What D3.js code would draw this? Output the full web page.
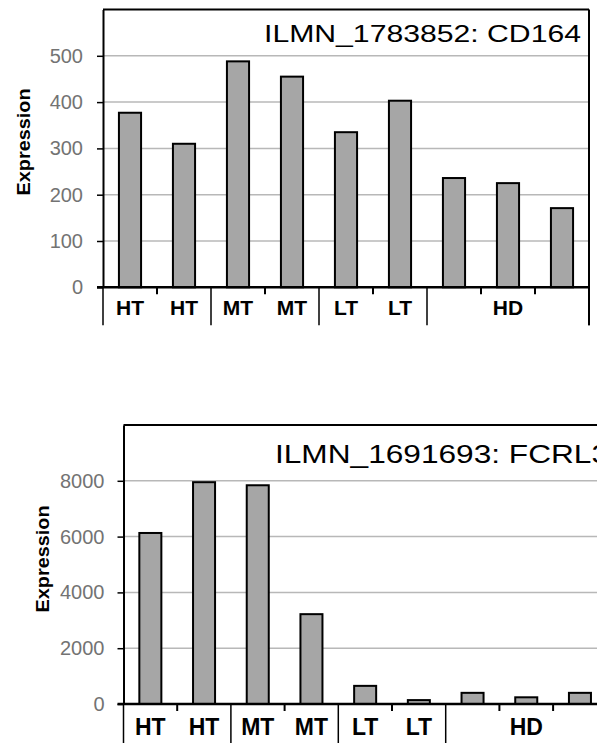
<!DOCTYPE html>
<html lang="en">
	<head>
		<meta charset="utf-8">
		<title>Expression: CD164 and FCRL3</title>
		<script src="https://d3js.org/d3.v7.min.js" charset="utf-8"></script>
		<style type="text/css">
			body {
				margin: 0;
				background-color: white;
			}
			svg text {
				font-family: "Liberation Sans", Arial, sans-serif;
			}
		</style>
	</head>
	<body>

		<script>

			//Width and height
			var w = 597;
			var h = 743;

			//Sample labels along the x axis (empty ones sit under a group label)
			var sampleLabels = ["HT", "HT", "MT", "MT", "LT", "LT", "", "", ""];
			var groupLabels = ["HT", "MT", "LT", "HD"];
			var groupSizes = [2, 2, 2, 3];

			//Values
			var cd164Values = [377, 310, 488, 455, 335, 403, 236, 225, 171];
			var fcrl3Values = [6130, 7950, 7840, 3220, 650, 140, 400, 240, 400];

			//Y axis ticks
			var cd164Ticks = [0, 100, 200, 300, 400, 500];
			var fcrl3Ticks = [0, 2000, 4000, 6000, 8000];

			var svg = d3.select("body")
				.append("svg")
				.attr("width", w)
				.attr("height", h);

			function drawPanel(p) {

				var g = svg.append("g")
					.attr("transform", "translate(" + p.left + "," + p.top + ")");

				var x = d3.scaleBand()
					.domain(d3.range(p.values.length))
					.range([0, p.width])
					.padding(0);

				var y = d3.scaleLinear()
					.domain([0, p.yMax])
					.range([p.height, 0]);

				var barW = x.bandwidth() * 0.41;

				//Gridlines
				g.selectAll("line.grid")
					.data(p.ticks.filter(function(d) { return d > 0; }))
					.enter()
					.append("line")
					.attr("class", "grid")
					.attr("x1", 0)
					.attr("x2", p.width)
					.attr("y1", function(d) { return y(d); })
					.attr("y2", function(d) { return y(d); })
					.attr("stroke", "#b8b8b8")
					.attr("stroke-width", 1.5);

				//Bars
				g.selectAll("rect")
					.data(p.values)
					.enter()
					.append("rect")
					.attr("x", function(d, i) { return x(i) + (x.bandwidth() - barW) / 2; })
					.attr("y", function(d) { return y(d); })
					.attr("width", barW)
					.attr("height", function(d) { return y(0) - y(d); })
					.attr("fill", "#a6a6a6")
					.attr("stroke", "black")
					.attr("stroke-width", 2);

				//Y axis
				var yAxis = g.append("g")
					.call(d3.axisLeft(y)
						.tickValues(p.ticks)
						.tickFormat(d3.format("d"))
						.tickSizeInner(6)
						.tickSizeOuter(0)
						.tickPadding(p.tickPad));
				yAxis.select(".domain")
					.attr("stroke", "black")
					.attr("stroke-width", 2);
				yAxis.selectAll(".tick line")
					.attr("stroke", "black")
					.attr("stroke-width", 1.5);
				yAxis.selectAll(".tick text")
					.attr("fill", "#737373")
					.style("font-size", p.tickFont + "px");

				//Frame: top and right
				g.append("line")
					.attr("x1", 0)
					.attr("x2", p.width)
					.attr("y1", y(p.yMax))
					.attr("y2", y(p.yMax))
					.attr("stroke", "black")
					.attr("stroke-width", 2);
				g.append("line")
					.attr("x1", p.width)
					.attr("x2", p.width)
					.attr("y1", y(p.yMax))
					.attr("y2", y(0) + p.sepLen)
					.attr("stroke", "black")
					.attr("stroke-width", 2);

				//Base line
				g.append("line")
					.attr("x1", -6)
					.attr("x2", p.width)
					.attr("y1", y(0))
					.attr("y2", y(0))
					.attr("stroke", "black")
					.attr("stroke-width", 2.5);

				//Group separators and small ticks between samples
				var bounds = [0];
				groupSizes.forEach(function(n) { bounds.push(bounds[bounds.length - 1] + n); });

				g.selectAll("line.sep")
					.data(d3.range(p.values.length + 1))
					.enter()
					.append("line")
					.attr("class", "sep")
					.attr("x1", function(i) { return i * x.step(); })
					.attr("x2", function(i) { return i * x.step(); })
					.attr("y1", y(0))
					.attr("y2", function(i) { return y(0) + (bounds.indexOf(i) >= 0 ? p.sepLen : 7); })
					.attr("stroke", "black")
					.attr("stroke-width", function(i) { return bounds.indexOf(i) >= 0 ? 1.5 : 2; });

				//Sample labels
				g.selectAll("text.sample")
					.data(sampleLabels)
					.enter()
					.append("text")
					.attr("class", "sample")
					.attr("x", function(d, i) { return x(i) + x.bandwidth() / 2; })
					.attr("y", y(0) + p.labelDy)
					.attr("text-anchor", "middle")
					.style("font-size", p.labelFont + "px")
					.style("font-weight", "bold")
					.text(function(d) { return d; });

				//Group label for the samples without their own label
				groupLabels.forEach(function(lab, k) {
					var from = bounds[k], to = bounds[k + 1];
					var own = sampleLabels.slice(from, to).some(function(s) { return s !== ""; });
					if (own) return;
					g.append("text")
						.attr("x", (from + to) / 2 * x.step())
						.attr("y", y(0) + p.labelDy)
						.attr("text-anchor", "middle")
						.style("font-size", p.labelFont + "px")
						.style("font-weight", "bold")
						.text(lab);
				});

				//Title
				svg.append("text")
					.attr("x", p.titleX)
					.attr("y", p.titleY)
					.attr("textLength", p.titleLen)
					.attr("lengthAdjust", "spacingAndGlyphs")
					.style("font-size", p.titleFont + "px")
					.text(p.title);

				//Y label
				svg.append("text")
					.attr("transform", "translate(" + p.yLabelX + "," + p.yLabelY + ") rotate(-90)")
					.attr("text-anchor", "middle")
					.attr("dy", "0.35em")
					.attr("textLength", 107)
					.attr("lengthAdjust", "spacingAndGlyphs")
					.style("font-size", "18px")
					.style("font-weight", "bold")
					.text("Expression");
			}

			drawPanel({
				values: cd164Values, ticks: cd164Ticks, yMax: 600,
				left: 103, top: 9.5, width: 486, height: 277.8,
				tickFont: 20, tickPad: 14, labelFont: 21, labelDy: 28, sepLen: 38,
				title: "ILMN_1783852: CD164", titleX: 264, titleY: 41.5, titleLen: 317, titleFont: 24,
				yLabelX: 24, yLabelY: 142
			});

			drawPanel({
				values: fcrl3Values, ticks: fcrl3Ticks, yMax: 10000,
				left: 123.5, top: 425, width: 483.3, height: 279,
				tickFont: 20, tickPad: 13, labelFont: 23, labelDy: 31, sepLen: 45,
				title: "ILMN_1691693: FCRL3", titleX: 275, titleY: 463, titleLen: 334, titleFont: 25,
				yLabelX: 43, yLabelY: 559
			});

		</script>

	</body>
</html>
